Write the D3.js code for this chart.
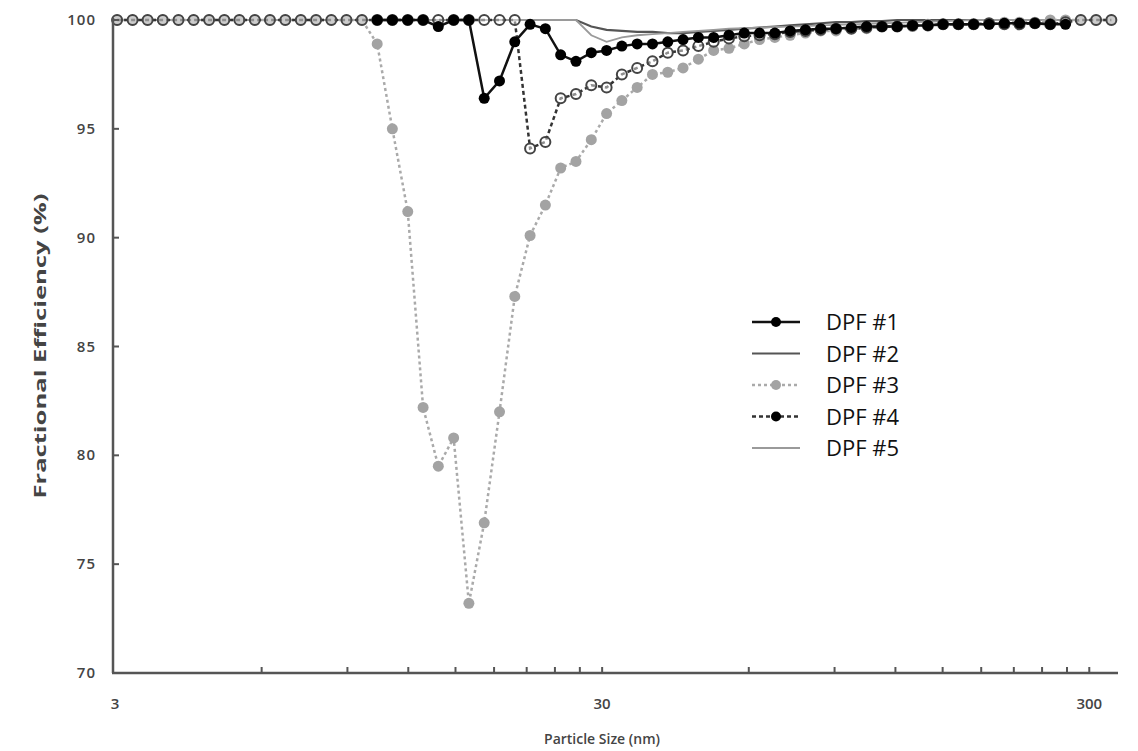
<!DOCTYPE html>
<html>
<head>
<meta charset="utf-8">
<script src="https://cdn.jsdelivr.net/npm/d3@7"></script>
<style>
  body { margin: 0; background: #fff; }
  text { font-family: 'Open Sans', sans-serif; }
</style>
</head>
<body>
<svg width="1138" height="751"></svg>
<script>
// particle size bins (nm)
const sizes = [3.03, 3.26, 3.50, 3.76, 4.05, 4.35, 4.68, 5.03, 5.40, 5.81,
  6.24, 6.71, 7.22, 7.76, 8.34, 8.96, 9.64, 10.36, 11.13, 11.97,
  12.87, 13.83, 14.87, 15.98, 17.18, 18.47, 19.85, 21.34, 22.94, 24.66,
  26.51, 28.50, 30.64, 32.93, 35.40, 38.06, 40.91, 43.98, 47.28, 50.82,
  54.63, 58.73, 63.13, 67.87, 72.96, 78.43, 84.31, 90.63, 97.42, 104.7,
  112.6, 121.0, 130.1, 139.9, 150.3, 161.6, 173.7, 186.8, 200.8, 215.8,
  232.0, 249.4, 268.1, 288.2, 309.8, 333.0];

// efficiency values (%), null = not measured
const dpf1 = [null, null, null, null, null, null, null, null, null, null,
  null, null, null, null, null, null, null, 100, 100, 100,
  100, 99.7, 100, 100, 96.4, 97.2, 99.0, 99.8, 99.6, 98.4,
  98.1, 98.5, 98.6, 98.8, 98.9, 98.9, 99.0, 99.1, 99.2, 99.2,
  99.3, 99.4, 99.4, 99.4, 99.5, 99.55, 99.6, 99.6, 99.65, 99.7,
  99.7, 99.7, 99.75, 99.75, 99.8, 99.8, 99.8, 99.8, 99.85, 99.85,
  99.85, 99.8, 99.8, null, null, null];
const dpf2 = [100, 100, 100, 100, 100, 100, 100, 100, 100, 100,
  100, 100, 100, 100, 100, 100, 100, 100, 100, 100,
  100, 100, 100, 100, 100, 100, 100, 100, 100, 100,
  100, 99.7, 99.55, 99.5, 99.45, 99.45, 99.4, 99.4, 99.45, 99.5,
  99.55, 99.6, 99.65, 99.7, 99.75, 99.8, 99.85, 99.9, 99.9, 99.95,
  99.95, 100, 100, 100, 100, 100, 100, 100, 100, 100,
  100, 100, 100, 100, 100, 100];
const dpf3 = [100, 100, 100, 100, 100, 100, 100, 100, 100, 100,
  100, 100, 100, 100, 100, 100, 100, 98.9, 95.0, 91.2,
  82.2, 79.5, 80.8, 73.2, 76.9, 82.0, 87.3, 90.1, 91.5, 93.2,
  93.5, 94.5, 95.7, 96.3, 96.9, 97.5, 97.6, 97.8, 98.2, 98.6,
  98.7, 98.9, 99.1, 99.2, 99.3, 99.4, 99.5, 99.5, 99.6, 99.6,
  99.7, 99.7, 99.7, 99.8, 99.8, 99.8, 99.8, 99.8, 99.9, 99.9,
  99.9, 100, 100, 100, 100, 100];
const dpf4 = [100, 100, 100, 100, 100, 100, 100, 100, 100, 100,
  100, 100, 100, 100, 100, 100, 100, 100, 100, 100,
  100, 100, 100, 100, 100, 100, 100, 94.1, 94.4, 96.4,
  96.6, 97.0, 96.9, 97.5, 97.8, 98.1, 98.5, 98.6, 98.8, 99.0,
  99.15, 99.25, 99.3, 99.35, 99.45, 99.5, 99.55, 99.6, 99.6, 99.65,
  99.7, 99.7, 99.75, 99.75, 99.8, 99.8, 99.8, 99.85, 99.8, 99.8,
  99.85, 99.8, 99.9, 100, 100, 100];
const dpf5 = [100, 100, 100, 100, 100, 100, 100, 100, 100, 100,
  100, 100, 100, 100, 100, 100, 100, 100, 100, 100,
  100, 100, 100, 100, 100, 100, 100, 100, 100, 100,
  100, 99.3, 99.0, 99.2, 99.3, 99.35, 99.4, 99.45, 99.5, 99.55,
  99.6, 99.62, 99.65, 99.68, 99.7, 99.72, 99.75, 99.78, 99.8, 99.82,
  99.85, 99.87, 99.9, 99.92, 99.95, 99.97, 100, 100, 100, 100,
  100, 100, 100, 100, 100, 100];

const seriesNames = ['DPF #1', 'DPF #2', 'DPF #3', 'DPF #4', 'DPF #5'];
const yTicks = [70, 75, 80, 85, 90, 95, 100];
const xLabels = [3, 30, 300];
const xMinor = [6, 9, 12, 15, 18, 21, 24, 27, 30, 60, 90, 120, 150, 180, 210, 240, 270, 300];

const svg = d3.select('svg');

const x = d3.scaleLog().domain([3, 342]).range([115, 1117]);
const y = d3.scaleLinear().domain([70, 100]).range([673, 20]);

// series styling
const styles = [
  { data: dpf1, stroke: '#111', width: 2.5, dash: null, marker: 'dot', fill: '#000' },
  { data: dpf2, stroke: '#555', width: 2.2, dash: null, marker: null },
  { data: dpf3, stroke: '#aaa', width: 2.5, dash: '3,3', marker: 'dot', fill: '#a3a3a3' },
  { data: dpf4, stroke: '#333', width: 2.5, dash: '4,3', marker: 'ring', fill: 'none' },
  { data: dpf5, stroke: '#9a9a9a', width: 1.8, dash: null, marker: null }
];

const line = d3.line()
  .defined((d) => d[1] != null)
  .x((d) => x(d[0]))
  .y((d) => y(d[1]));

// draw order: 2, 5, 3, 4, 1 so DPF #1 ends on top
const order = [1, 4, 2, 3, 0];
order.forEach((i) => {
  const s = styles[i];
  const pts = sizes.map((sz, k) => [sz, s.data[k]]);
  const g = svg.append('g');
  g.append('path')
    .attr('d', line(pts))
    .attr('fill', 'none')
    .attr('stroke', s.stroke)
    .attr('stroke-width', s.width)
    .attr('stroke-dasharray', s.dash);
  const valid = pts.filter((d) => d[1] != null);
  if (s.marker === 'dot') {
    g.selectAll('circle').data(valid).enter().append('circle')
      .attr('cx', (d) => x(d[0]))
      .attr('cy', (d) => y(d[1]))
      .attr('r', 5.5)
      .attr('fill', s.fill);
  } else if (s.marker === 'ring') {
    g.selectAll('circle').data(valid).enter().append('circle')
      .attr('cx', (d) => x(d[0]))
      .attr('cy', (d) => y(d[1]))
      .attr('r', 5)
      .attr('fill', 'rgba(255,255,255,0.45)')
      .attr('stroke', '#444')
      .attr('stroke-width', 2);
  }
});

// axes
const axisColor = '#555';
svg.append('line')
  .attr('x1', 113).attr('x2', 113).attr('y1', 18).attr('y2', y(70))
  .attr('stroke', axisColor).attr('stroke-width', 2.5);
svg.append('line')
  .attr('x1', 112).attr('x2', 1118).attr('y1', y(70)).attr('y2', y(70))
  .attr('stroke', axisColor).attr('stroke-width', 2.5);

svg.selectAll('.ytick').data(yTicks).enter().append('line')
  .attr('x1', 113).attr('x2', 119)
  .attr('y1', (d) => y(d)).attr('y2', (d) => y(d))
  .attr('stroke', axisColor).attr('stroke-width', 2);

svg.selectAll('.ylab').data(yTicks).enter().append('text')
  .attr('x', 96).attr('y', (d) => y(d) + 5)
  .attr('text-anchor', 'end')
  .attr('font-size', 15).attr('font-weight', 600)
  .attr('letter-spacing', 1)
  .attr('fill', '#444')
  .text((d) => d);

svg.selectAll('.xtick').data(xMinor).enter().append('line')
  .attr('x1', (d) => x(d)).attr('x2', (d) => x(d))
  .attr('y1', y(70)).attr('y2', y(70) - 6)
  .attr('stroke', axisColor).attr('stroke-width', 2);

svg.selectAll('.xlab').data(xLabels).enter().append('text')
  .attr('x', (d) => x(d)).attr('y', 709)
  .attr('text-anchor', 'middle')
  .attr('font-size', 15).attr('font-weight', 600)
  .attr('fill', '#444')
  .text((d) => d);

svg.append('text')
  .attr('x', 602).attr('y', 744)
  .attr('text-anchor', 'middle')
  .attr('font-size', 14).attr('font-weight', 600)
  .attr('fill', '#444')
  .text('Particle Size  (nm)');

svg.append('text')
  .attr('transform', 'translate(46,346) rotate(-90)')
  .attr('text-anchor', 'middle')
  .attr('font-size', 16).attr('font-weight', 700)
  .attr('textLength', 305)
  .attr('lengthAdjust', 'spacingAndGlyphs')
  .attr('fill', '#444')
  .text('Fractional Efficiency (%)');

// legend
const legend = svg.append('g');
seriesNames.forEach((name, i) => {
  const s = styles[i];
  const ly = 322 + i * 31.5;
  legend.append('line')
    .attr('x1', 752).attr('x2', 800).attr('y1', ly).attr('y2', ly)
    .attr('stroke', s.stroke).attr('stroke-width', s.width)
    .attr('stroke-dasharray', s.dash);
  if (s.marker) {
    legend.append('circle')
      .attr('cx', 776).attr('cy', ly).attr('r', 5)
      .attr('fill', i === 2 ? '#a3a3a3' : '#000');
  }
  legend.append('text')
    .attr('x', 826).attr('y', ly + 8)
    .attr('font-size', 22).attr('font-weight', 500)
    .attr('fill', '#111')
    .text(name);
});
</script>
</body>
</html>
